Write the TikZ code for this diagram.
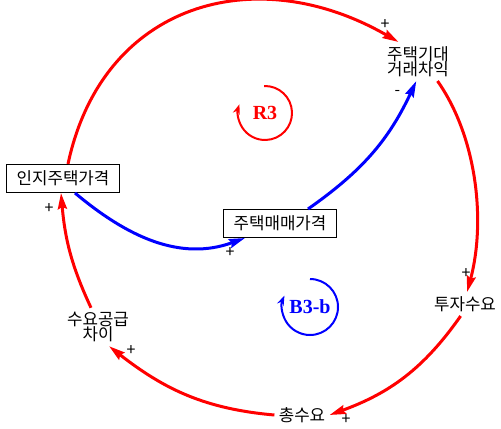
\documentclass[tikz,border=0pt]{standalone}
\usepackage{fontspec}
\setmainfont{Noto Sans CJK KR}
\newfontfamily\loopfont{Liberation Serif}
\usepackage{xcolor}
\usepackage{tikz}
\usetikzlibrary{arrows.meta}
\definecolor{lnkred}{HTML}{FF0000}
\definecolor{lnkblue}{HTML}{0000FF}

\begin{document}
\begin{tikzpicture}[x=0.5pt,y=0.5pt,
  var/.style={font={\fontsize{8.4}{7.5}\selectfont\lineskiplimit=-5pt},
              align=center,inner sep=2pt},
  box/.style={var,draw,line width=0.5pt,minimum width=56.5pt,
              minimum height=14pt,inner sep=0pt},
  rlink/.style={lnkred,line width=1.5pt,-{Stealth[length=8pt,width=4.5pt,inset=1pt]}},
  blink/.style={rlink,lnkblue},
  sgn/.style={pos=1,font=\fontsize{8}{9}\selectfont,text=black,inner sep=0pt},
  loopname/.style={font=\loopfont\bfseries\fontsize{10}{12}\selectfont},
  lp/.style={line width=1pt,-{Stealth[length=5pt,width=3.5pt]}}]
\useasboundingbox (0,0) rectangle (501,428);
% variables
\node[var] (exp) at (418,366.5) {주택기대\\거래차익};
\node[box] (perc) at (63,249.5) {인지주택가격};
\node[box] (sale) at (280,204.5) {주택매매가격};
\node[var] (inv) at (465,124) {투자수요};
\node[var] (gap) at (98,101) {수요공급\\차이};
\node[var] (tot) at (302,13) {총수요};
% loop names
\node[loopname,text=lnkred] (R3) at (265,315) {R3};
\node[loopname,text=lnkblue] (B3b) at (310,121) {B3-b};
\draw[lp,lnkred] (R3.center) ++(92:27) arc[start angle=92,end angle=-199,radius=13.5pt];
\draw[lp,lnkblue] (B3b.center) ++(90:28) arc[start angle=90,end angle=-204,radius=14pt];
% links
\draw[rlink] ([xshift=2.5pt]perc.north) to[out=78,in=150,looseness=1.2]
  node[sgn,xshift=-6.75pt,yshift=8.75pt]{+} (exp.135);
\draw[rlink] (exp.315) to[out=-55,in=75,looseness=0.85]
  node[sgn,xshift=-0.5pt,yshift=9pt]{+} (inv.80);
\draw[rlink] (inv.250) to[out=-125,in=20]
  node[sgn,xshift=8.2pt,yshift=-2.5pt]{+} (tot.east);
\draw[rlink] (tot.west) to[out=175,in=-38]
  node[sgn,xshift=11pt,yshift=-2pt]{+} (gap.300);
\draw[rlink] (gap.110) to[out=115,in=-85]
  node[sgn,xshift=-6pt,yshift=-8pt]{+} ([xshift=-1pt]perc.south);
\draw[blink] ([xshift=6pt]perc.south) to[out=-40,in=200]
  node[sgn,xshift=-7.5pt,yshift=-7.25pt]{+} ([xshift=11pt]sale.south west);
\draw[blink] ([xshift=14pt]sale.north) to[out=35,in=245]
  node[sgn,xshift=-9.4pt,yshift=-5.75pt]{-} (exp.265);
\end{tikzpicture}
\end{document}
